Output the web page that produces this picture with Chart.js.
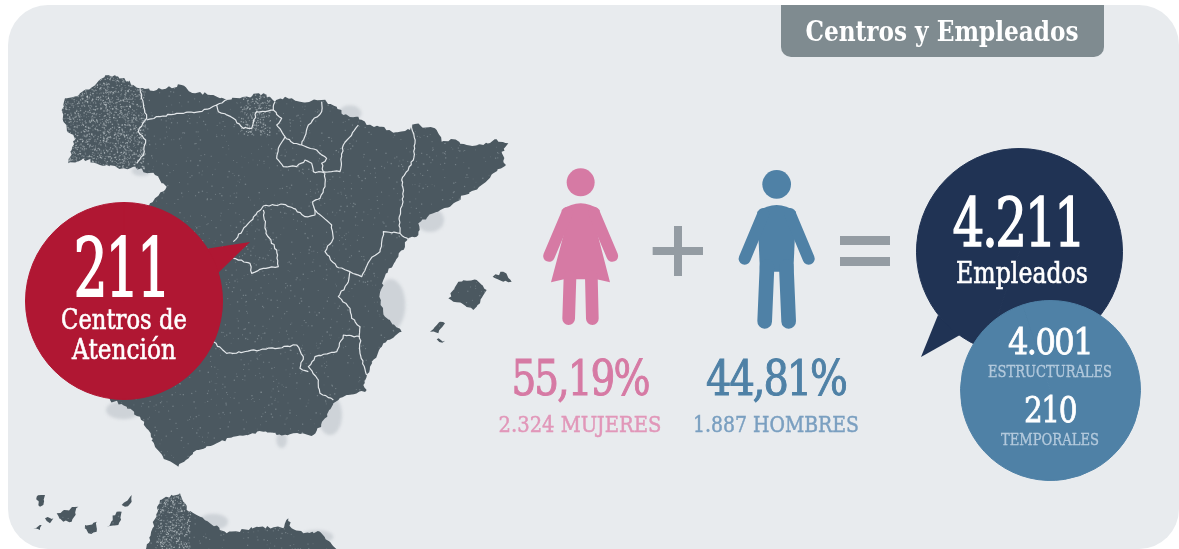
<!DOCTYPE html>
<html lang="es">
<head>
<meta charset="utf-8">
<title>Centros y Empleados</title>
<script src="https://cdn.jsdelivr.net/npm/chart.js@4"></script>
<style>
    html, body { margin: 0; padding: 0; background: #fff; overflow: hidden; }
    #page { position: relative; width: 1179px; height: 549px; overflow: hidden; }
    #panel { position: absolute; left: 8px; top: 5px; width: 1171px; height: 544px; border-radius: 40px; background: #e8ebee; }
    #tab { position: absolute; left: 781px; top: 5px; width: 323px; height: 52px; border-radius: 0 0 10px 10px; background: #7f8b90; }
    canvas { position: absolute; }
    .label { position: absolute; white-space: nowrap; font-family: "DejaVu Serif", serif; }
</style>
</head>
<body>
<div id="page">
    <div id="panel"></div>
    <div id="tab"></div>
    <canvas id="backdrop" width="1179" height="549" style="left:0;top:0"></canvas>
    <canvas id="centrosPie" width="198" height="198" style="left:25px;top:202px"></canvas>
    <canvas id="empleadosPie" width="207" height="207" style="left:916px;top:148px"></canvas>
    <canvas id="tiposPie" width="181" height="181" style="left:960px;top:300px"></canvas>
</div>
<script>
const titulo = 'Centros y Empleados';
const centros = [211];
const centrosLabel = ['Centros de', 'Atención'];
const generoLabels = ['MUJERES', 'HOMBRES'];
const generoValues = [2324, 1887];
const generoPct = [55.19, 44.81];
const tipoLabels = ['ESTRUCTURALES', 'TEMPORALES'];
const tipoValues = [4001, 210];
const totalEmpleados = 4211;

const RED = '#b01733', NAVY = '#203354', BLUE = '#4f81a6', PINK = '#d67aa4', GREY = '#949ca3', MAP = '#4b5860';

// 4.211 / 55,19 style numbers
const miles = n => String(n).replace(/\B(?=(\d{3})+$)/g, '.');
const pct = n => n.toFixed(2).replace('.', ',') + '%';

// outlines traced at 3x from the map area
const mainland = [[185,150],[195,115],[240,100],[290,70],[325,45],[355,50],[400,75],[420,85],[470,90],[545,75],[570,95],[640,105],[680,120],[720,115],[790,100],[825,125],[855,110],[900,125],[965,120],[1010,140],[1030,165],[1075,170],[1100,195],[1145,200],[1180,218],[1230,210],[1245,192],[1310,210],[1325,245],[1360,238],[1400,255],[1450,255],[1490,238],[1525,250],[1505,275],[1518,315],[1480,340],[1445,375],[1395,405],[1350,440],[1300,460],[1255,490],[1255,525],[1225,535],[1195,590],[1150,660],[1138,710],[1155,770],[1205,815],[1150,850],[1110,920],[1090,975],[1100,990],[1040,1005],[1000,1030],[975,1075],[940,1125],[880,1120],[830,1125],[790,1115],[700,1130],[640,1155],[590,1170],[535,1220],[500,1200],[465,1160],[445,1110],[420,1070],[380,1040],[330,1020],[300,900],[300,700],[400,500],[450,430],[500,380],[465,345],[400,320],[370,325],[300,315],[250,295],[205,310],[215,270],[225,240],[200,205],[190,185]];
const islands = [
    [[1345,715],[1375,665],[1430,660],[1460,690],[1440,730],[1420,750],[1385,730],[1360,725]],
    [[1478,650],[1510,635],[1535,665],[1510,665]],
    [[1290,815],[1320,785],[1335,790],[1315,820]],
    [[1310,838],[1335,842],[1318,846]],
    [[110,1310],[135,1305],[130,1335],[120,1340]],
    [[170,1360],[235,1340],[215,1385],[190,1385]],
    [[255,1395],[290,1385],[290,1415],[265,1420]],
    [[320,1400],[350,1355],[365,1355],[355,1395]],
    [[365,1335],[395,1305],[395,1325],[375,1340]],
    [[135,1375],[160,1375],[150,1390]],
    [[100,1405],[125,1395],[120,1410]],
    [[430,1500],[480,1320],[540,1300],[560,1350],[590,1365],[630,1390],[680,1420],[770,1400],[850,1405],[865,1375],[875,1405],[910,1420],[960,1415],[1040,1500]]
];
const borders = [
    [[420,85],[430,130],[440,175],[415,215],[437,240],[430,285],[410,310]],
    [[440,180],[480,170],[530,160],[600,155],[630,145],[650,135],[655,155],[700,175],[730,205],[755,205],[770,155],[820,150],[845,175],[830,195],[855,230]],
    [[650,135],[680,120]],
    [[820,150],[825,125]],
    [[855,230],[835,265],[830,295],[850,320],[890,320],[915,300],[935,310],[940,335],[975,340]],
    [[855,230],[880,250],[905,255],[950,270],[980,295],[965,310],[970,335],[1020,335],[1030,255],[1075,195]],
    [[905,255],[925,195],[965,155],[965,125]],
    [[975,340],[975,380],[960,415],[938,425],[945,465],[915,470],[880,445],[850,433],[790,438],[745,490],[700,545]],
    [[790,450],[798,520],[830,570],[835,620],[790,625],[755,640],[750,610],[700,595]],
    [[945,450],[995,495],[1000,535],[975,575],[1010,620],[1050,635],[1085,650],[1110,600],[1140,575],[1150,515],[1200,520],[1225,540]],
    [[1235,195],[1245,250],[1240,300],[1205,360],[1210,410],[1198,470],[1200,520]],
    [[1050,635],[1045,665],[1015,710],[1050,745],[1055,775],[1080,800],[1080,880],[1100,945]],
    [[1080,830],[1030,825],[1010,875],[945,890],[925,920],[955,960],[960,1000],[1000,1020]],
    [[640,845],[680,880],[780,870],[890,855],[910,890],[900,925],[925,935]]
];
// pale patches along the coast: x, y, rx, ry
const coastPatches = [[1172,735,44,78],[1050,160,34,24],[1290,480,42,36],[990,1065,36,60],[845,1140,16,24],[370,1050,52,28],[425,332,30,16],[640,1385,44,24],[950,1430,50,20]];

const mapX = x => x / 3;
const mapY = y => y / 3 + 60;

// small fixed-seed generator for the map texture only
let seed = 12345;
function next() {
    seed = (seed + 0x6D2B79F5) | 0;
    let t = Math.imul(seed ^ (seed >>> 15), 1 | seed);
    t = (t + Math.imul(t ^ (t >>> 7), 61 | t)) ^ t;
    return ((t ^ (t >>> 14)) >>> 0) / 4294967296;
}

// midpoint wobble so the traced outlines do not look cut with a ruler
function roughen(pts, amp, closed) {
    const out = [];
    const n = closed ? pts.length : pts.length - 1;
    for (let i = 0; i < n; i++) {
        const a = pts[i], b = pts[(i + 1) % pts.length];
        const len = Math.hypot(b[0] - a[0], b[1] - a[1]);
        const steps = Math.max(1, Math.round(len / 9));
        out.push(a);
        for (let s = 1; s < steps; s++) {
            const t = s / steps;
            out.push([a[0] + (b[0] - a[0]) * t + (next() - 0.5) * amp, a[1] + (b[1] - a[1]) * t + (next() - 0.5) * amp]);
        }
    }
    if (!closed) out.push(pts[pts.length - 1]);
    return out;
}

function drawMap(ctx) {
    ctx.save();
    ctx.filter = 'blur(1.5px)';
    ctx.fillStyle = '#ced3d8';
    coastPatches.forEach(([x, y, rx, ry]) => {
        ctx.beginPath();
        ctx.ellipse(mapX(x), mapY(y), rx / 3, ry / 3, 0, 0, Math.PI * 2);
        ctx.fill();
    });
    ctx.restore();

    ctx.fillStyle = MAP;
    const land = new Path2D();
    [mainland, ...islands].forEach(pts => {
        roughen(pts, 9, true).forEach(([x, y], i) => i ? land.lineTo(mapX(x), mapY(y)) : land.moveTo(mapX(x), mapY(y)));
        land.closePath();
    });
    ctx.fill(land);

    // speckle, denser on Galicia and around Santander
    ctx.save();
    ctx.clip(land);
    for (let i = 0; i < 60000; i++) {
        const x = next() * 520, y = 60 + next() * 489, roll = next(), size = 0.6 + next() * 0.8;
        const dense = (x < 145 && y < 170) || (x > 240 && x < 270 && y > 90 && y < 135) || (x > 155 && x < 190 && y > 490);
        if (roll < (dense ? 0.9 : 0.07)) {
            ctx.fillStyle = dense ? 'rgba(225,230,233,0.45)' : 'rgba(205,214,220,0.3)';
            ctx.fillRect(x, y, size, size);
        }
    }
    ctx.restore();

    ctx.strokeStyle = '#e3e7ea';
    ctx.lineWidth = 1.2;
    ctx.lineJoin = 'round';
    borders.forEach(pts => {
        ctx.beginPath();
        roughen(pts, 5, false).forEach(([x, y], i) => i ? ctx.lineTo(mapX(x), mapY(y)) : ctx.moveTo(mapX(x), mapY(y)));
        ctx.stroke();
    });
}

function limb(ctx, x1, y1, x2, y2, w) {
    ctx.lineWidth = w;
    ctx.lineCap = 'round';
    ctx.beginPath();
    ctx.moveTo(x1, y1);
    ctx.lineTo(x2, y2);
    ctx.stroke();
}

// people and signs, traced at 3x
function drawPeople(ctx) {
    ctx.save();
    ctx.translate(490, 150);
    ctx.scale(1 / 3, 1 / 3);

    ctx.fillStyle = ctx.strokeStyle = PINK;
    ctx.beginPath();
    ctx.arc(272, 97, 42, 0, Math.PI * 2);
    ctx.fill();
    ctx.beginPath();
    ctx.moveTo(215, 180);
    ctx.quadraticCurveTo(272, 140, 329, 180);
    ctx.lineTo(322, 250);
    ctx.lineTo(360, 397);
    ctx.lineTo(320, 388);
    ctx.lineTo(222, 388);
    ctx.lineTo(183, 397);
    ctx.lineTo(222, 250);
    ctx.closePath();
    ctx.fill();
    limb(ctx, 232, 188, 177, 318, 35);
    limb(ctx, 312, 188, 367, 318, 35);
    limb(ctx, 240, 380, 236, 506, 38);
    limb(ctx, 304, 380, 307, 506, 38);

    ctx.fillStyle = ctx.strokeStyle = BLUE;
    ctx.beginPath();
    ctx.arc(860, 103, 43, 0, Math.PI * 2);
    ctx.fill();
    ctx.beginPath();
    ctx.moveTo(802, 185);
    ctx.quadraticCurveTo(860, 145, 918, 185);
    ctx.lineTo(910, 365);
    ctx.lineTo(810, 365);
    ctx.closePath();
    ctx.fill();
    limb(ctx, 820, 192, 764, 326, 36);
    limb(ctx, 900, 192, 956, 326, 36);
    limb(ctx, 831, 350, 824, 514, 44);
    limb(ctx, 889, 350, 896, 514, 44);

    ctx.fillStyle = GREY;
    ctx.fillRect(552, 228, 24, 150);
    ctx.fillRect(488, 291, 151, 24);
    ctx.fillRect(1050, 258, 150, 27);
    ctx.fillRect(1050, 321, 150, 27);
    ctx.restore();
}

function drawTail(ctx, color, pts) {
    ctx.fillStyle = color;
    ctx.beginPath();
    pts.forEach(([x, y], i) => i ? ctx.lineTo(x, y) : ctx.moveTo(x, y));
    ctx.closePath();
    ctx.fill();
}

const backdropPlugin = {
    id: 'backdrop',
    beforeDraw(chart) {
        const ctx = chart.ctx;
        ctx.save();
        ctx.beginPath();
        ctx.roundRect(8, 5, 1171, 544, 40);
        ctx.clip();
        drawMap(ctx);
        ctx.restore();
        drawPeople(ctx);
        drawTail(ctx, RED, [[205, 249], [250, 242], [217, 274]]);
        drawTail(ctx, NAVY, [[938, 315], [921, 357], [960, 335]]);
    }
};

new Chart(document.getElementById('backdrop'), {
    type: 'scatter',
    data: { datasets: [] },
    options: {
        responsive: false,
        animation: false,
        plugins: { legend: { display: false }, tooltip: { enabled: false } },
        scales: { x: { display: false }, y: { display: false } }
    },
    plugins: [backdropPlugin]
});

function bubble(id, values, color) {
    new Chart(document.getElementById(id), {
        type: 'pie',
        data: {
            labels: values.map(String),
            // border in the same colour hides the seam between slices
            datasets: [{ data: values, backgroundColor: color, borderColor: color, borderWidth: 1 }]
        },
        options: {
            responsive: false,
            animation: false,
            plugins: { legend: { display: false }, tooltip: { enabled: false } }
        }
    });
}

bubble('centrosPie', centros, RED);
bubble('empleadosPie', generoValues, NAVY);
bubble('tiposPie', tipoValues, BLUE);

// text: centre x, baseline, font size, wanted width
const page = document.getElementById('page');
const measure = document.createElement('canvas').getContext('2d');

function label(text, cx, baseline, size, width, color, weight) {
    const font = `${weight || 'normal'} ${size}px "DejaVu Serif"`;
    measure.font = font;
    const m = measure.measureText(text);
    const spacing = size >= 35 ? -0.05 * size : 0;
    const el = document.createElement('div');
    el.className = 'label';
    el.textContent = text;
    el.style.font = font;
    el.style.color = color;
    el.style.letterSpacing = spacing + 'px';
    if (!weight) el.style.webkitTextStroke = (size * 0.022).toFixed(2) + 'px ' + color;
    el.style.left = cx + 'px';
    el.style.top = (baseline - m.fontBoundingBoxAscent) + 'px';
    const natural = m.width + spacing * text.length;
    el.style.transform = `translateX(-50%) scaleX(${(width / natural).toFixed(3)})`;
    page.appendChild(el);
}

label(titulo, 942, 41, 28, 273, '#fff', 'bold');
label(String(centros[0]), 121, 296, 80, 95, '#fff');
label(centrosLabel[0], 124, 329, 27, 126, '#fff');
label(centrosLabel[1], 124, 359, 27, 104, '#fff');
label(pct(generoPct[0]), 580, 395, 49, 137, PINK);
label(pct(generoPct[1]), 776, 395, 49, 140, BLUE);
label(`${miles(generoValues[0])} ${generoLabels[0]}`, 580, 432, 23, 163, '#e197b9');
label(`${miles(generoValues[1])} ${generoLabels[1]}`, 776, 432, 23, 166, '#7a9fc0');
label(miles(totalEmpleados), 1018, 246, 68, 131, '#fff');
label('Empleados', 1022, 283, 30, 132, '#fff');
label(miles(tipoValues[0]), 1050, 354, 35, 84, '#fff');
label(tipoLabels[0], 1050, 377, 17, 124, '#b3c9dc');
label(miles(tipoValues[1]), 1050, 422, 35, 52, '#fff');
label(tipoLabels[1], 1050, 445, 17, 98, '#b3c9dc');
</script>
</body>
</html>
